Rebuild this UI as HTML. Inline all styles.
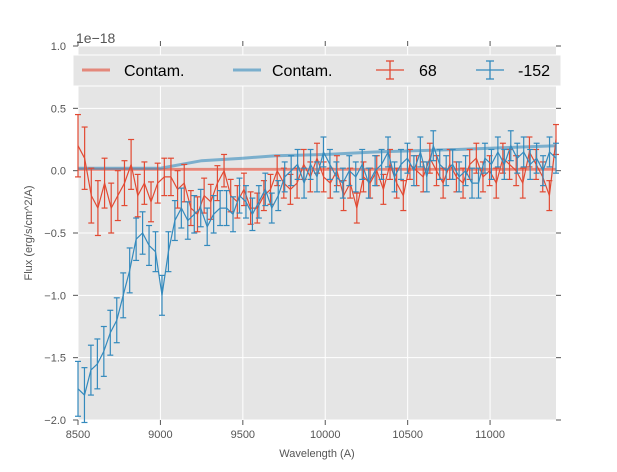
<!DOCTYPE html>
<html><head><meta charset="utf-8"><style>
body{margin:0;background:#fff;}
svg{font-family:"Liberation Sans",sans-serif;}
</style></head><body>
<svg id="chart" width="617" height="467" viewBox="0 0 617 467">
<rect x="78" y="46" width="478" height="374" fill="#e5e5e5"/>
<g id="grid"></g>
<g id="axes"></g>
<g id="series"></g>
<text x="76" y="43" font-size="14" fill="#555">1e−18</text>
<text transform="translate(32,233) rotate(-90)" text-anchor="middle" font-size="11" fill="#555">Flux (erg/s/cm^2/A)</text>
<text x="317" y="457" text-anchor="middle" font-size="11" fill="#555">Wavelength (A)</text>
<g>
<rect x="73" y="55" width="488" height="31" fill="#e5e5e5" stroke="#fff"/>
<line x1="82" y1="70" x2="110" y2="70" stroke="#E24A33" stroke-opacity="0.6" stroke-width="3"/>
<text x="124" y="76" font-size="16" fill="#000">Contam.</text>
<line x1="233" y1="70" x2="261" y2="70" stroke="#348ABD" stroke-opacity="0.6" stroke-width="3"/>
<text x="272" y="76" font-size="16" fill="#000">Contam.</text>
<g stroke="#E24A33" stroke-width="1.3"><line x1="376" y1="70" x2="404" y2="70"/><line x1="390" y1="61" x2="390" y2="79"/><line x1="386" y1="61" x2="394" y2="61"/><line x1="386" y1="79" x2="394" y2="79"/></g>
<text x="419" y="76" font-size="16" fill="#000">68</text>
<g stroke="#348ABD" stroke-width="1.3"><line x1="476" y1="70" x2="504" y2="70"/><line x1="490" y1="61" x2="490" y2="79"/><line x1="486" y1="61" x2="494" y2="61"/><line x1="486" y1="79" x2="494" y2="79"/></g>
<text x="518" y="76" font-size="16" fill="#000">-152</text>
</g>
</svg>
<script>
const xTicks=[8500,9000,9500,10000,10500,11000];
const yTicks=[-2.0,-1.5,-1.0,-0.5,0.0,0.5,1.0];
const xMin=8500,xMax=11400,yMin=-2.0,yMax=1.0;
const blueFlux=[-1.75,-1.8,-1.6,-1.55,-1.45,-1.3,-1.2,-1.0,-0.8,-0.55,-0.5,-0.6,-0.65,-1.0,-0.65,-0.4,-0.3,-0.4,-0.35,-0.3,-0.45,-0.35,-0.3,-0.3,-0.35,-0.2,-0.25,-0.35,-0.25,-0.15,-0.3,-0.2,-0.05,0.0,0.05,-0.1,0.05,-0.05,0.15,0.05,-0.05,-0.1,0.0,-0.05,0.05,-0.1,0.0,0.05,0.15,-0.05,0.05,0.1,0.0,0.15,-0.05,0.2,0.05,0.0,0.05,-0.05,0.0,-0.1,-0.1,0.1,0.05,0.15,0.05,0.2,0.1,0.15,0.05,0.1,0.0,0.15,0.1];
const blueErr=[0.22,0.22,0.2,0.2,0.2,0.18,0.18,0.18,0.18,0.17,0.17,0.16,0.16,0.16,0.16,0.16,0.16,0.15,0.15,0.15,0.15,0.15,0.14,0.14,0.14,0.14,0.13,0.13,0.13,0.13,0.12,0.12,0.12,0.12,0.12,0.12,0.12,0.12,0.12,0.12,0.12,0.12,0.12,0.12,0.12,0.12,0.12,0.12,0.12,0.12,0.12,0.12,0.12,0.12,0.12,0.12,0.12,0.12,0.12,0.12,0.12,0.12,0.12,0.12,0.12,0.12,0.12,0.12,0.12,0.12,0.12,0.12,0.12,0.12,0.12];
const redFlux=[0.2,0.1,-0.2,-0.3,-0.1,-0.3,-0.2,-0.1,0.05,-0.2,-0.1,-0.25,-0.1,-0.05,-0.05,-0.15,-0.1,-0.3,-0.35,-0.2,-0.25,-0.1,0.0,-0.2,-0.25,-0.15,-0.3,-0.3,-0.2,-0.15,0.0,-0.1,-0.15,-0.1,0.05,-0.05,0.1,-0.05,-0.1,0.0,-0.2,-0.1,-0.3,-0.05,-0.1,0.0,-0.15,0.05,-0.1,-0.2,0.05,0.0,-0.05,0.1,0.0,-0.1,0.05,-0.05,-0.1,0.05,0.1,-0.05,0.0,-0.1,0.1,0.05,0.0,-0.1,0.15,0.05,-0.05,-0.2,0.25];
const redErr=[0.25,0.25,0.22,0.22,0.2,0.2,0.2,0.18,0.2,0.17,0.17,0.16,0.16,0.15,0.15,0.15,0.15,0.14,0.14,0.14,0.14,0.14,0.13,0.13,0.13,0.13,0.13,0.12,0.12,0.12,0.12,0.12,0.12,0.12,0.12,0.12,0.12,0.12,0.12,0.12,0.12,0.12,0.12,0.12,0.12,0.12,0.12,0.12,0.12,0.12,0.12,0.12,0.12,0.12,0.12,0.12,0.12,0.12,0.12,0.12,0.12,0.12,0.12,0.12,0.12,0.12,0.12,0.12,0.12,0.12,0.12,0.12,0.12];
const contamWave=[8500,9000,9250,9500,9700,10000,10300,10800,11400];
const blueContam=[0.02,0.02,0.08,0.1,0.12,0.13,0.15,0.17,0.2];
const redContam=[0.01,0.01,0.01,0.01,0.01,0.01,0.01,0.01,0.01];

const X=v=>78+(v-xMin)/(xMax-xMin)*478;
const Y=v=>420-(v-yMin)/(yMax-yMin)*374;
const NS='http://www.w3.org/2000/svg';
function mk(tag,attrs,parent){const e=document.createElementNS(NS,tag);for(const k in attrs)e.setAttribute(k,attrs[k]);parent.appendChild(e);return e;}
const grid=document.getElementById('grid'),axes=document.getElementById('axes'),ser=document.getElementById('series');
xTicks.forEach(t=>{
 const g=mk('line',{x1:X(t),x2:X(t),y1:46,y2:420,stroke:'#fff','stroke-width':1},grid);
 
 
 mk('line',{x1:X(t),x2:X(t),y1:420,y2:425,stroke:'#555'},axes);
 mk('line',{x1:X(t),x2:X(t),y1:41,y2:46,stroke:'#555'},axes);
 const l=mk('text',{x:X(t),y:438,'text-anchor':'middle','font-size':11,fill:'#555'},axes);
 l.textContent=t;
 
 
});
yTicks.forEach(t=>{
 const g=mk('line',{x1:78,x2:556,y1:Y(t),y2:Y(t),stroke:'#fff','stroke-width':1},grid);
 
 
 mk('line',{x1:73,x2:78,y1:Y(t),y2:Y(t),stroke:'#555'},axes);
 mk('line',{x1:556,x2:561,y1:Y(t),y2:Y(t),stroke:'#555'},axes);
 const l=mk('text',{x:66,y:Y(t)+4,'text-anchor':'end','font-size':11,fill:'#555'},axes);
 l.textContent=t.toFixed(1).replace('-','\u2212');
 
 
});
function contam(vals,color,name){
 const p=vals.map((v,i)=>X(contamWave[i]).toFixed(1)+','+Y(v).toFixed(1)).join(' ');
 const e=mk('polyline',{points:p,fill:'none',stroke:color,'stroke-width':3,'stroke-opacity':0.6},ser);
 
 
}
function errSeries(vals,errs,color,name){
 const g=mk('g',{stroke:color,'stroke-width':1.2,fill:'none'},ser);
 
 
 const n=vals.length;
 const wx=i=>X(xMin+i*(xMax-xMin)/(n-1));
 vals.forEach((v,i)=>{
  const e=errs[i]||0.12,x=wx(i);
  mk('line',{x1:x,x2:x,y1:Y(v+e),y2:Y(v-e)},g);
  mk('line',{x1:x-3,x2:x+3,y1:Y(v+e),y2:Y(v+e)},g);
  mk('line',{x1:x-3,x2:x+3,y1:Y(v-e),y2:Y(v-e)},g);
 });
 mk('polyline',{points:vals.map((v,i)=>wx(i).toFixed(1)+','+Y(v).toFixed(1)).join(' ')},g);
}
contam(redContam,'#E24A33','contam-line-red');
contam(blueContam,'#348ABD','contam-line-blue');
errSeries(redFlux,redErr,'#E24A33','series-68');
errSeries(blueFlux,blueErr,'#348ABD','series-minus-152');
</script>
</body></html>
